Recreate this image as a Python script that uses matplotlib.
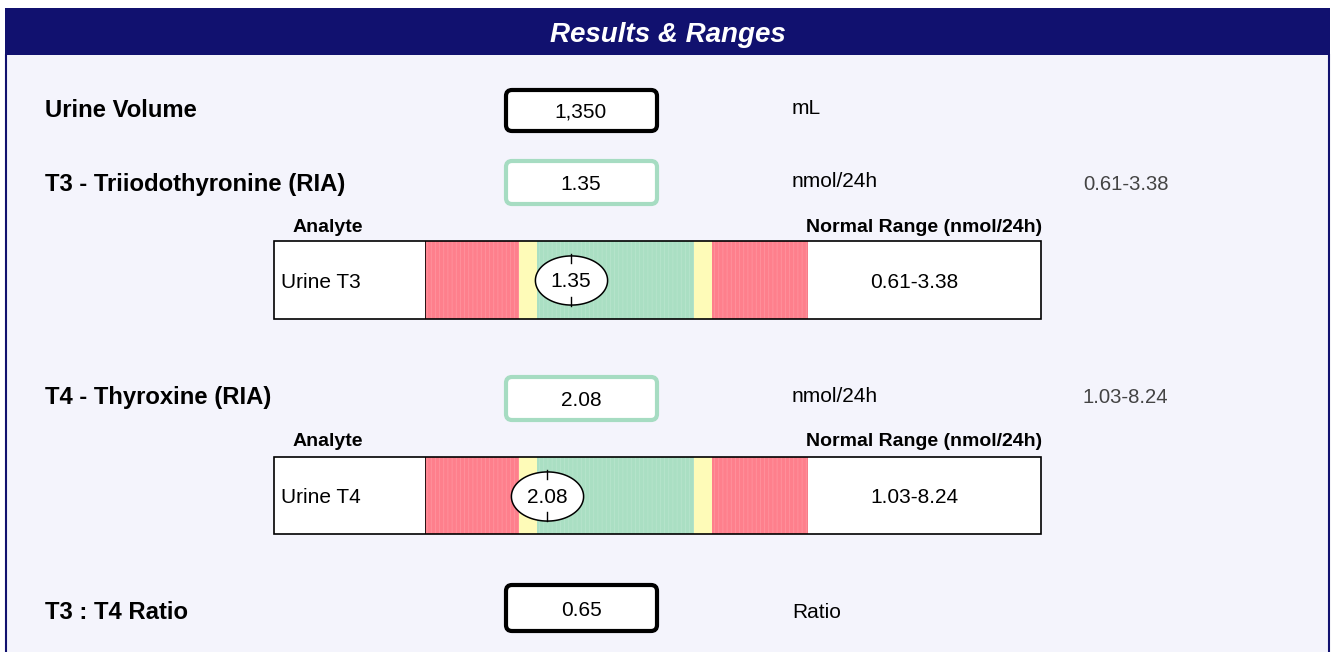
import numpy as np
import matplotlib
matplotlib.use('Agg')
from matplotlib import pyplot as plt
from matplotlib.patches import Rectangle, FancyBboxPatch
from matplotlib.path import Path

plt.rcParams['font.family'] = ['Liberation Sans', 'DejaVu Sans']
plt.rcParams['hatch.linewidth'] = 0.5

# data
title = 'Results & Ranges'
row_labels = ['Urine Volume', 'T3 - Triiodothyronine (RIA)', 'T4 - Thyroxine (RIA)', 'T3 : T4 Ratio']
row_values = ['1,350', '1.35', '2.08', '0.65']
row_units = ['mL', 'nmol/24h', 'nmol/24h', 'Ratio']
row_ranges = ['', '0.61-3.38', '1.03-8.24', '']
row_flag = ['plain', 'normal', 'normal', 'plain']

analytes = ['Urine T3', 'Urine T4']
analyte_values = [1.35, 2.08]
range_low = [0.61, 1.03]
range_high = [3.38, 8.24]
range_unit = 'nmol/24h'

# layout (pixels)
W, H = 1331, 652
navy = '#11116f'
bg = '#f4f4fc'
red = '#fe7f8c'
yellow = '#fefbb8'
green = '#aadfc3'
box_edge = {'plain': 'black', 'normal': '#a6dcc2'}

label_y = [110.5, 184.5, 397.5, 612.5]
box_y = [(90, 131), (161, 204), (377, 420), (585, 631)]
unit_y = [108.5, 181.5, 396.5, 612.5]
bar_y = [(241, 319), (457, 534)]
head_y = [227, 442]

fig = plt.figure(figsize=(W / 100, H / 100), dpi=100)
ax = fig.add_axes([0, 0, 1, 1])
ax.set_xlim(0, W)
ax.set_ylim(H, 0)
ax.axis('off')

# panel
ax.add_patch(Rectangle((5, 55), 1325, H - 55, facecolor=bg, edgecolor='none'))
ax.plot([6, 6], [55, H], color=navy, lw=1.5)
ax.plot([1329, 1329], [55, H], color=navy, lw=1.5)
ax.add_patch(Rectangle((5, 8), 1325, 47, facecolor=navy, edgecolor='none'))
ax.text(668, 35, title, color='white', fontsize=20, fontweight='bold',
        fontstyle='italic', ha='center', va='center')

for i in range(len(row_labels)):
    ax.text(45, label_y[i], row_labels[i], fontsize=17.2, fontweight='bold',
            ha='left', va='center')
    y0, y1 = box_y[i]
    ax.add_patch(FancyBboxPatch((506, y0), 151, y1 - y0,
                                boxstyle='round,pad=0,rounding_size=6',
                                facecolor='white', edgecolor=box_edge[row_flag[i]], lw=3))
    ax.text(581, (y0 + y1) / 2 + 2, row_values[i], fontsize=15, ha='center', va='center')
    ax.text(792, unit_y[i], row_units[i], fontsize=15, ha='left', va='center')
    if row_ranges[i]:
        ax.text(1083, label_y[i], row_ranges[i], fontsize=14.6, color='#444444',
                ha='left', va='center')

# ellipse marker path
t = np.linspace(0, 2 * np.pi, 100)
ell = Path(np.column_stack([1.47 * np.cos(t), np.sin(t)]))

for k in range(len(analytes)):
    y0, y1 = bar_y[k]
    ax.text(293, head_y[k], 'Analyte', fontsize=14, fontweight='bold', ha='left', va='center')
    ax.text(1042, head_y[k], 'Normal Range (' + range_unit + ')', fontsize=14,
            fontweight='bold', ha='right', va='center')
    ax.add_patch(Rectangle((274, y0), 767, y1 - y0, facecolor='white',
                           edgecolor='black', lw=1.2))
    ax.text(281, (y0 + y1) / 2 + 2, analytes[k], fontsize=15, ha='left', va='center')
    ax.text(914, (y0 + y1) / 2 + 2, '%.2f-%.2f' % (range_low[k], range_high[k]),
            fontsize=15, ha='center', va='center')

    lo, hi = range_low[k], range_high[k]
    w = hi - lo
    xmin, xmax = lo - 0.487 * w, hi + 0.497 * w
    m = 0.093 * w
    bax = fig.add_axes([425 / W, 1 - y1 / H, 383 / W, (y1 - y0) / H])
    bax.set_xlim(xmin, xmax)
    bax.set_ylim(0, 1)
    bax.axis('off')
    bands = [(xmin, lo, red), (lo, lo + m, yellow), (lo + m, hi - m, green),
             (hi - m, hi, yellow), (hi, xmax, red)]
    for a, b, c in bands:
        hatch = '||||' if c != yellow else None
        bax.axvspan(a, b, facecolor=c, edgecolor=(1, 1, 1, 0.18), hatch=hatch, lw=0)
    bax.plot([xmin, xmin], [0, 1], color='black', lw=1.2)
    bax.plot([xmax, xmax], [0, 1], color='#666666', lw=0.8)
    bax.plot([xmin, xmax], [1, 1], color='black', lw=1.2)
    bax.plot([xmin, xmax], [0, 0], color='black', lw=1.2)

    v = analyte_values[k]
    bax.plot([v], [0.5], marker=ell, ms=52, mfc='white', mec='black', mew=1.1, zorder=5)
    bax.plot([v, v], [0.72, 0.83], color='black', lw=1, zorder=6)
    bax.plot([v, v], [0.17, 0.28], color='black', lw=1, zorder=6)
    bax.text(v, 0.48, '%.2f' % v, fontsize=15, ha='center', va='center', zorder=7)

fig.savefig('out.png', dpi=100)
